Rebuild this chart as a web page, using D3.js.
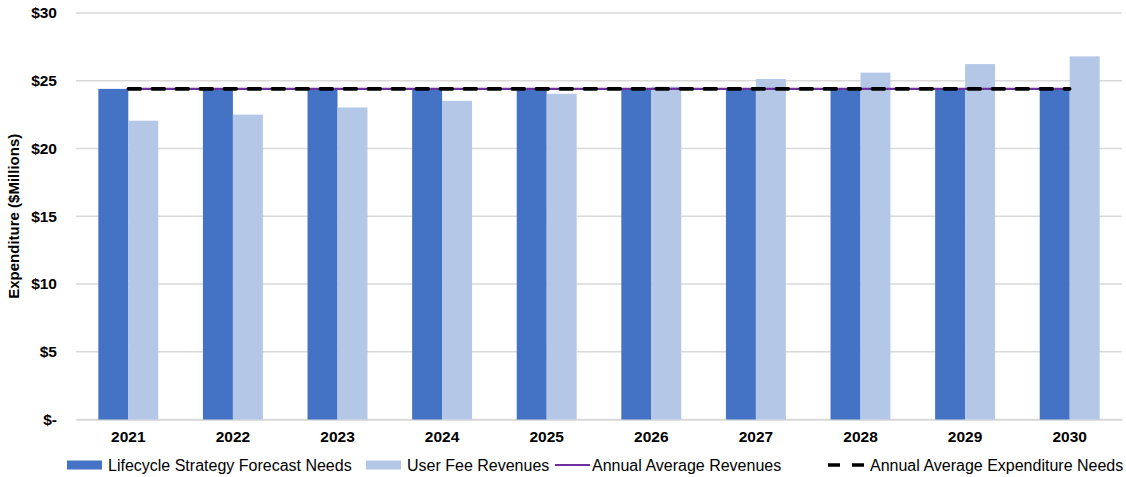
<!DOCTYPE html>
<html>
<head>
<meta charset="utf-8">
<script src="https://cdn.jsdelivr.net/npm/d3@7"></script>
<style>
  html, body { margin: 0; padding: 0; background: #fff; }
  svg { display: block; font-family: "Liberation Sans", Arial, sans-serif; }
</style>
</head>
<body>
<svg id="chart" width="1126" height="477"></svg>
<script>
// Annual expenditure needs versus user fee revenues, 2021–2030 ($ millions)
const years = ["2021", "2022", "2023", "2024", "2025", "2026", "2027", "2028", "2029", "2030"];
const forecastNeeds = [24.4, 24.4, 24.4, 24.4, 24.4, 24.4, 24.4, 24.4, 24.4, 24.4];
const userFeeRevenues = [22.05, 22.5, 23.03, 23.52, 24.04, 24.56, 25.13, 25.6, 26.23, 26.8];
const avgRevenues = [24.4, 24.4, 24.4, 24.4, 24.4, 24.4, 24.4, 24.4, 24.4, 24.4];
const avgExpenditure = [24.4, 24.4, 24.4, 24.4, 24.4, 24.4, 24.4, 24.4, 24.4, 24.4];
const yTicks = [0, 5, 10, 15, 20, 25, 30];
const legendLabels = [
  "Lifecycle Strategy Forecast Needs",
  "User Fee Revenues",
  "Annual Average Revenues",
  "Annual Average Expenditure Needs"
];

const colors = {
  needs: "#4472C4",
  fees: "#B4C7E7",
  avgRev: "#7030A0",
  avgExp: "#000000",
  grid: "#D9D9D9"
};

const svg = d3.select("#chart");
const margin = { left: 76, right: 4, top: 13, bottom: 57.5 };
const W = 1126, H = 477;
const plotW = W - margin.left - margin.right;
const plotH = H - margin.top - margin.bottom;

const g = svg.append("g").attr("transform", `translate(${margin.left},${margin.top})`);

// two bars per year, gap between groups 150% of a bar
const x = d3.scaleBand().domain(years).range([0, plotW]).paddingInner(0.427).paddingOuter(0.2135);
const xs = d3.scaleBand().domain(["needs", "fees"]).range([0, x.bandwidth()]);
const y = d3.scaleLinear().domain([0, 30]).range([plotH, 0]);
const xc = d => x(d) + x.bandwidth() / 2;

// horizontal gridlines
g.append("g")
  .selectAll("line")
  .data(yTicks)
  .join("line")
  .attr("x1", 0).attr("x2", plotW)
  .attr("y1", d => y(d)).attr("y2", d => y(d))
  .attr("stroke", colors.grid)
  .attr("stroke-width", 1.3);

// y axis labels
const yAxis = d3.axisLeft(y)
  .tickValues(yTicks)
  .tickSize(0)
  .tickPadding(19)
  .tickFormat(d => d === 0 ? "$-" : "$" + d);
g.append("g").call(yAxis)
  .call(s => s.select(".domain").remove())
  .selectAll("text")
  .attr("font-size", 15.5)
  .attr("font-weight", "bold")
  .attr("fill", "#000")
  .attr("font-family", "Liberation Sans, Arial, sans-serif");

// x axis labels
const xAxis = d3.axisBottom(x).tickSize(0).tickPadding(11);
g.append("g").attr("transform", `translate(0,${plotH})`).call(xAxis)
  .call(s => s.select(".domain").attr("stroke", colors.grid).attr("stroke-width", 1.3))
  .selectAll("text")
  .attr("font-size", 15.5)
  .attr("font-weight", "bold")
  .attr("fill", "#000")
  .attr("font-family", "Liberation Sans, Arial, sans-serif");

// bars
const series = [
  { key: "needs", values: forecastNeeds, color: colors.needs },
  { key: "fees", values: userFeeRevenues, color: colors.fees }
];
series.forEach(s => {
  g.append("g")
    .selectAll("rect")
    .data(years.map((yr, i) => ({ yr, v: s.values[i] })))
    .join("rect")
    .attr("x", d => x(d.yr) + xs(s.key))
    .attr("width", xs.bandwidth())
    .attr("y", d => y(d.v))
    .attr("height", d => y(0) - y(d.v))
    .attr("fill", s.color);
});

// average lines
const line = arr => d3.line().x((d, i) => xc(years[i])).y(d => y(d))(arr);
g.append("path")
  .attr("d", line(avgRevenues))
  .attr("fill", "none")
  .attr("stroke", colors.avgRev)
  .attr("stroke-width", 2.2);
g.append("path")
  .attr("d", line(avgExpenditure))
  .attr("fill", "none")
  .attr("stroke", colors.avgExp)
  .attr("stroke-width", 3.6)
  .attr("stroke-dasharray", "12,12")
  .attr("stroke-linecap", "round");

// y axis title
svg.append("text")
  .attr("transform", `translate(19,${margin.top + plotH / 2}) rotate(-90)`)
  .attr("text-anchor", "middle")
  .attr("font-size", 15)
  .attr("font-weight", "bold")
  .attr("fill", "#000")
  .text("Expenditure ($Millions)");

// legend
const legendY = 465;
const legendX = [67, 366, 555, 788];
const lg = svg.append("g");
legendLabels.forEach((lab, i) => {
  const item = lg.append("g").attr("transform", `translate(${legendX[i]},${legendY})`);
  if (i < 2) {
    item.append("rect")
      .attr("x", 0).attr("y", -4.5)
      .attr("width", 35).attr("height", 9)
      .attr("fill", i === 0 ? colors.needs : colors.fees);
  } else if (i === 2) {
    item.append("line")
      .attr("x1", 0).attr("x2", 35).attr("y1", 0).attr("y2", 0)
      .attr("stroke", colors.avgRev).attr("stroke-width", 2.2);
  } else {
    item.append("line")
      .attr("x1", 40).attr("x2", 77).attr("y1", 0).attr("y2", 0)
      .attr("stroke", colors.avgExp).attr("stroke-width", 3.6)
      .attr("stroke-dasharray", "12,12");
  }
  item.append("text")
    .attr("x", i === 3 ? 82 : (i === 2 ? 37 : 41))
    .attr("y", 0)
    .attr("dy", "0.35em")
    .attr("font-size", 16)
    .attr("fill", "#000")
    .text(lab);
});
</script>
</body>
</html>
